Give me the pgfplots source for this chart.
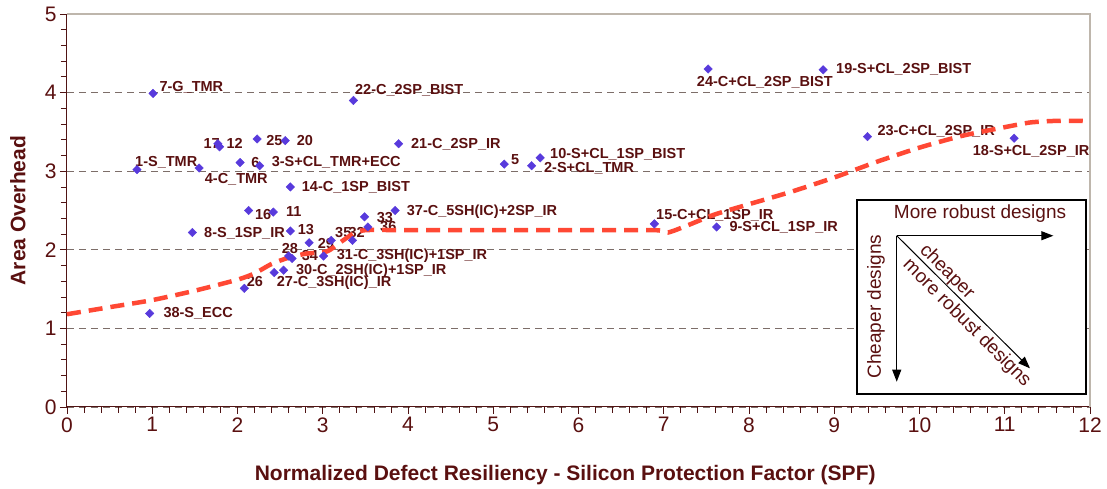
\documentclass[border=0pt]{standalone}
\usepackage{fontspec}
\setmainfont{Liberation Sans}
\usepackage{pgfplots}
\pgfplotsset{compat=1.18}
\usetikzlibrary{arrows.meta}
\definecolor{txt}{RGB}{90,16,16}
\definecolor{ax}{RGB}{80,20,20}
\definecolor{gridc}{RGB}{125,110,105}
\definecolor{framec}{RGB}{190,182,172}
\definecolor{mk}{RGB}{88,58,220}
\definecolor{rl}{RGB}{255,72,52}
\pgfplotstableread{
x y
0.82 3.02
5.45 3.07
2.26 3.07
1.55 3.04
5.13 3.09
2.03 3.11
1.01 3.99
1.47 2.22
7.62 2.29
5.55 3.17
2.42 2.48
1.79 3.31
2.62 2.24
2.62 2.80
6.89 2.33
2.13 2.50
1.77 3.35
11.11 3.42
8.87 4.29
2.56 3.39
3.89 3.35
3.36 3.90
9.39 3.44
7.52 4.30
2.23 3.41
2.08 1.51
2.43 1.71
2.60 1.92
2.84 2.09
2.54 1.74
3.01 1.92
3.35 2.12
3.49 2.42
2.64 1.89
3.10 2.12
3.53 2.29
3.85 2.50
0.97 1.19
}\designs
\pgfplotstableread{
x y
0 1.18
0.5 1.27
1.0 1.36
1.5 1.48
2.0 1.62
2.2 1.70
2.4 1.82
2.6 1.90
2.8 1.95
3.05 1.98
3.2 2.09
3.35 2.20
3.5 2.25
4 2.25
5 2.25
6 2.25
6.9 2.25
7.05 2.22
7.3 2.32
7.6 2.45
8 2.58
8.5 2.74
9 2.92
9.5 3.12
10 3.30
10.5 3.45
11 3.56
11.3 3.62
11.6 3.64
12 3.64
}\trend
\begin{document}
\begin{tikzpicture}[lbl/.style={font=\fontsize{14.5}{15}\selectfont\bfseries, text=txt, inner sep=0pt, anchor=base west, yshift=-5.2pt},
 ins/.style={font=\fontsize{19}{19}\selectfont, text=txt, inner sep=0pt}]
\begin{axis}[
 scale only axis, width=1023pt, height=393pt,
 xmin=0,xmax=12,ymin=0,ymax=5,
 xtick={0,...,12}, ytick={0,...,5},
 minor x tick num=4, minor y tick num=4,
 axis x line*=bottom, axis y line*=left,
 axis line style={ax, line width=1pt},
 tick align=outside, major tick length=7pt, minor tick length=6pt,
 every tick/.style={ax, line width=0.8pt},
 ymajorgrids, major grid style={gridc, dash pattern=on 7pt off 5pt, line width=0.8pt},
 tick label style={font=\fontsize{21}{21}\selectfont, text=txt},
 /pgf/number format/assume math mode=true,
 xlabel={Normalized Defect Resiliency - Silicon Protection Factor (SPF)},
 ylabel={Area Overhead},
 label style={font=\fontsize{21}{21}\selectfont\bfseries, text=txt},
 xlabel style={at={(axis description cs:0.487,-0.172)}, anchor=center},
 ylabel style={at={(axis description cs:-0.048,0.5)}, anchor=center},
 clip=false,
]
\draw[framec, line width=1.3pt] (rel axis cs:0,1) -- (rel axis cs:1,1) -- (rel axis cs:1,0);
\addplot[only marks, mark=square*, mark size=3pt, mark options={rotate=45, fill=mk, draw=mk}] table[x=x,y=y] {\designs};
\node[lbl] at (axis cs:1.083,4.081) {7-G\_TMR};
\node[lbl] at (axis cs:0.798,3.13) {1-S\_TMR};
\node[lbl] at (axis cs:1.615,2.915) {4-C\_TMR};
\node[lbl] at (axis cs:1.60,3.35) {17};
\node[lbl] at (axis cs:1.87,3.35) {12};
\node[lbl] at (axis cs:2.335,3.395) {25};
\node[lbl] at (axis cs:2.694,3.395) {20};
\node[lbl] at (axis cs:2.16,3.117) {6};
\node[lbl] at (axis cs:2.40,3.132) {3-S+CL\_TMR+ECC};
\node[lbl] at (axis cs:2.753,2.803) {14-C\_1SP\_BIST};
\node[lbl] at (axis cs:2.205,2.453) {16};
\node[lbl] at (axis cs:2.569,2.496) {11};
\node[lbl] at (axis cs:1.607,2.22) {8-S\_1SP\_IR};
\node[lbl] at (axis cs:2.706,2.262) {13};
\node[lbl] at (axis cs:3.633,2.417) {33};
\node[lbl] at (axis cs:3.672,2.294) {36};
\node[lbl] at (axis cs:3.985,2.503) {37-C\_5SH(IC)+2SP\_IR};
\node[lbl] at (axis cs:3.144,2.222) {35};
\node[lbl] at (axis cs:3.30,2.222) {32};
\node[lbl] at (axis cs:2.941,2.083) {29};
\node[lbl] at (axis cs:2.518,2.014) {28};
\node[lbl] at (axis cs:2.753,1.934) {34};
\node[lbl] at (axis cs:3.164,1.938) {31-C\_3SH(IC)+1SP\_IR};
\node[lbl] at (axis cs:2.686,1.749) {30-C\_2SH(IC)+1SP\_IR};
\node[lbl] at (axis cs:2.46,1.594) {27-C\_3SH(IC)\_IR};
\node[lbl] at (axis cs:2.108,1.594) {26};
\node[lbl] at (axis cs:1.13,1.202) {38-S\_ECC};
\node[lbl] at (axis cs:3.378,4.048) {22-C\_2SP\_BIST};
\node[lbl] at (axis cs:4.035,3.361) {21-C\_2SP\_IR};
\node[lbl] at (axis cs:5.208,3.149) {5};
\node[lbl] at (axis cs:5.666,3.234) {10-S+CL\_1SP\_BIST};
\node[lbl] at (axis cs:5.595,3.047) {2-S+CL\_TMR};
\node[lbl] at (axis cs:7.387,4.145) {24-C+CL\_2SP\_BIST};
\node[lbl] at (axis cs:9.021,4.304) {19-S+CL\_2SP\_BIST};
\node[lbl] at (axis cs:9.505,3.514) {23-C+CL\_2SP\_IR};
\node[lbl] at (axis cs:10.624,3.26) {18-S+CL\_2SP\_IR};
\node[lbl] at (axis cs:6.909,2.453) {15-C+CL\_1SP\_IR};
\node[lbl] at (axis cs:7.769,2.305) {9-S+CL\_1SP\_IR};
\addplot[rl, line width=4.5pt, dash pattern=on 14pt off 8pt, smooth, tension=0.4, no marks] table[x=x,y=y] {\trend};
% inset
\draw[black, line width=1.3pt, fill=white] (axis cs:9.267,0.165) rectangle (axis cs:11.953,2.634);
\draw[black, line width=1pt, -{Triangle[length=12pt,width=9pt]}] (axis cs:9.733,2.179) -- (axis cs:11.57,2.179);
\draw[black, line width=1pt, -{Triangle[length=12pt,width=9pt]}] (axis cs:9.733,2.179) -- (axis cs:9.733,0.322);
\draw[black, line width=1pt, -{Triangle[length=12pt,width=9pt]}] (axis cs:9.733,2.179) -- (axis cs:11.296,0.492);
\node[ins] at (axis cs:10.71,2.455) {More robust designs};
\node[ins, rotate=90] at (axis cs:9.49,1.276) {Cheaper designs};
\node[ins, rotate=-45] at (axis cs:10.32,1.72) {cheaper};
\node[ins, rotate=-45] at (axis cs:10.554,1.065) {more robust designs};
\end{axis}
\pgfresetboundingbox
\path[use as bounding box] (-67pt,-82pt) rectangle (1040pt,407pt);
\end{tikzpicture}
\end{document}
